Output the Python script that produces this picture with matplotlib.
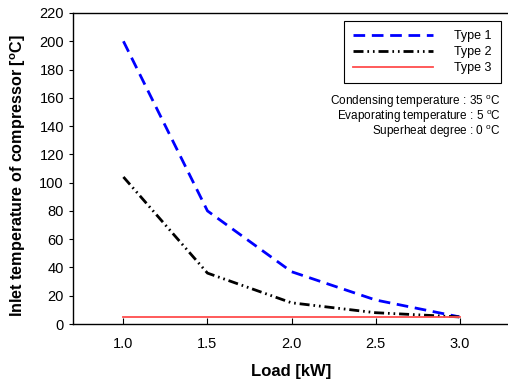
import matplotlib.pyplot as plt
import numpy as np

plt.rcParams['font.family'] = ['Liberation Sans', 'DejaVu Sans']

load = [1.0, 1.5, 2.0, 2.5, 3.0]
type1 = [200, 80, 37, 17, 5]
type2 = [104, 36, 15, 8, 5]
type3 = [5, 5, 5, 5, 5]

fig = plt.figure(figsize=(5.08, 3.80), dpi=100)
ax = fig.add_axes([73 / 508, 56 / 380, 437 / 508, 311 / 380])

ax.plot(load, type1, color='#0000ff', lw=2.0, dashes=[4.2, 2.4], label='Type 1')
ax.plot(load, type2, color='black', lw=2.0, dashes=[3.6, 1.4, 0.6, 1.4, 0.6, 1.4], label='Type 2')
ax.plot(load, type3, color='#ff4d4d', lw=1.3, label='Type 3')

ax.set_xlim(0.7, 3.3)
ax.set_ylim(0, 220)
ax.set_xticks(load)
ax.set_xticklabels(['1.0', '1.5', '2.0', '2.5', '3.0'])
ax.set_yticks(np.arange(0, 221, 20))
ax.tick_params(axis='x', direction='in', length=4, labelsize=10.5, pad=9)
ax.tick_params(axis='y', direction='out', length=3, labelsize=10.5)
ax.spines['right'].set_visible(False)
for s in ax.spines.values():
    s.set_linewidth(1.0)

ax.set_xlabel('Load [kW]', fontsize=12, fontweight='bold', labelpad=10)
ax.set_ylabel(r'Inlet temperature of compressor [$^\mathregular{o}$C]', fontsize=11.6,
              fontweight='bold')
ax.yaxis.set_label_coords((28 - 73) / 437, (324 - 176) / 311)

leg = ax.legend(loc='upper right', bbox_to_anchor=((501 - 73) / 437, (324 - 21) / 311),
                fontsize=9, frameon=True, fancybox=False, edgecolor='black', framealpha=1,
                handlelength=6.4, handletextpad=1.7, borderpad=0.75, labelspacing=0.3,
                borderaxespad=0)
leg.get_frame().set_linewidth(0.8)

notes = [r'Condensing temperature : 35 $^\mathregular{o}$C',
         r'Evaporating temperature : 5 $^\mathregular{o}$C',
         r'Superheat degree : 0 $^\mathregular{o}$C']
for i, n in enumerate(notes):
    ax.text(501 / 508, (380 - 102 - i * 15) / 380, n, transform=fig.transFigure,
            ha='right', va='center', fontsize=8.5)

fig.savefig('out.png', dpi=100)
